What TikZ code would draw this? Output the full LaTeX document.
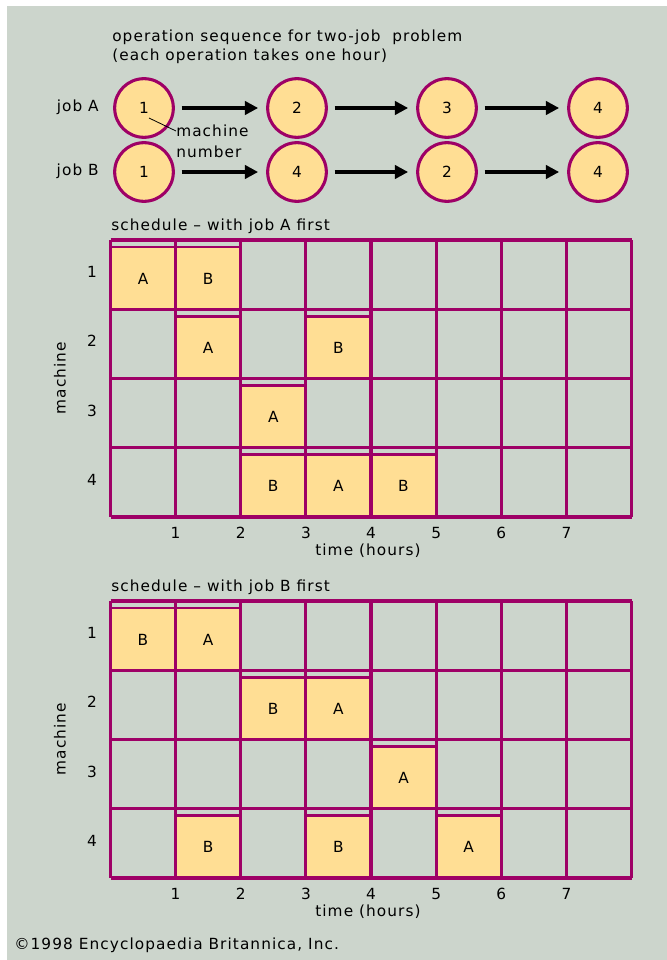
\documentclass[tikz,border=0pt]{standalone}
\usepackage{fontspec}
\setmainfont[LetterSpace=7]{DejaVu Sans}
\usetikzlibrary{arrows.meta}
\definecolor{xBg}{RGB}{204,213,204}
\definecolor{xPlum}{RGB}{158,0,102}
\definecolor{xSand}{RGB}{255,222,148}
\tikzset{
  lbl/.style={font=\fontsize{11.5}{13}\selectfont, inner sep=0pt},
  opnode/.style={circle, draw=xPlum, fill=xSand, line width=2.3pt, minimum size=44pt,
                 inner sep=0pt, font=\fontsize{11.5}{13}\selectfont},
  seqarrow/.style={-{Triangle[length=10pt, width=10pt]}, line width=3.2pt, shorten <=5pt, shorten >=6pt},
  gridline/.style={xPlum, line width=2.4pt},
  busy/.style={fill=xSand},
  barline/.style={xPlum, line width=2.2pt},
}

\begin{document}
\begin{tikzpicture}[x=0.75pt, y=-0.75pt]
    \useasboundingbox (0,0) rectangle (667,960);
    \fill[white] (0,0) rectangle (667,960);
    \fill[xBg] (7,6) rectangle (667,960);

    \node[lbl, anchor=west] (head1) at (112,37) {operation sequence for two-job\ \ problem};
    \node[lbl, anchor=west] (head2) at (112,56) {(each operation takes one hour)};

    \node[lbl, anchor=east] (jobA) at (99,107) {job A};
    \node[lbl, anchor=east] (jobB) at (99,171) {job B};
    \node[opnode] (a1) at (144,108) {1};
    \node[opnode] (a2) at (297,108) {2};
    \node[opnode] (a3) at (447,108) {3};
    \node[opnode] (a4) at (598,108) {4};
    \node[opnode] (b1) at (144,172) {1};
    \node[opnode] (b2) at (297,172) {4};
    \node[opnode] (b3) at (447,172) {2};
    \node[opnode] (b4) at (598,172) {4};
    \draw[seqarrow] (a1) -- (a2);
    \draw[seqarrow] (a2) -- (a3);
    \draw[seqarrow] (a3) -- (a4);
    \draw[seqarrow] (b1) -- (b2);
    \draw[seqarrow] (b2) -- (b3);
    \draw[seqarrow] (b3) -- (b4);

    \coordinate (mtip) at (149,118);
    \node[lbl, anchor=west] (mach) at (176,131) {machine};
    \node[lbl, anchor=west] (numb) at (176,152) {number};
    \draw[semithick] (mtip) -- (mach.west);

    % schedule with job A first
    \begin{scope}
      \node[lbl, anchor=west] (titleA) at (111,226) {schedule -- with job A first};
      \foreach \c/\r/\j in {0/0/A, 1/0/B, 1/1/A, 3/1/B, 2/2/A, 2/3/B, 3/3/A, 4/3/B} {
        \fill[busy] (110.5+\c*65.125, 240+\r*69.25+7) rectangle (110.5+\c*65.125+65.125, 240+\r*69.25+69.25);
        \draw[barline] (110.5+\c*65.125, 240+\r*69.25+7) -- (110.5+\c*65.125+65.125, 240+\r*69.25+7);
        \node[lbl] (sa-\c-\r) at (110.5+\c*65.125+32.5, 240+\r*69.25+38.5) {\j};
      }
      \foreach \r in {0,...,4}
        \draw[gridline] (110.5, 240+\r*69.25) -- (631.5, 240+\r*69.25);
      \foreach \c in {0,...,8}
        \draw[gridline] (110.5+\c*65.125, 240) -- (110.5+\c*65.125, 517);
      \foreach \r in {1,...,4}
        \node[lbl] (rowA\r) at (92, 240+\r*69.25-69.25+32) {\r};
      \foreach \k in {1,...,7}
        \node[lbl] (tickA\k) at (110.5+\k*65.125, 533) {\k};
      \node[lbl] (timeA) at (368,551) {time (hours)};
      \node[lbl, rotate=90] (machA) at (60,378) {machine};
    \end{scope}

    % schedule with job B first
    \begin{scope}[shift={(0,361)}]
      \node[lbl, anchor=west] (titleB) at (111,226) {schedule -- with job B first};
      \foreach \c/\r/\j in {0/0/B, 1/0/A, 2/1/B, 3/1/A, 4/2/A, 1/3/B, 3/3/B, 5/3/A} {
        \fill[busy] (110.5+\c*65.125, 240+\r*69.25+7) rectangle (110.5+\c*65.125+65.125, 240+\r*69.25+69.25);
        \draw[barline] (110.5+\c*65.125, 240+\r*69.25+7) -- (110.5+\c*65.125+65.125, 240+\r*69.25+7);
        \node[lbl] (sb-\c-\r) at (110.5+\c*65.125+32.5, 240+\r*69.25+38.5) {\j};
      }
      \foreach \r in {0,...,4}
        \draw[gridline] (110.5, 240+\r*69.25) -- (631.5, 240+\r*69.25);
      \foreach \c in {0,...,8}
        \draw[gridline] (110.5+\c*65.125, 240) -- (110.5+\c*65.125, 517);
      \foreach \r in {1,...,4}
        \node[lbl] (rowB\r) at (92, 240+\r*69.25-69.25+32) {\r};
      \foreach \k in {1,...,7}
        \node[lbl] (tickB\k) at (110.5+\k*65.125, 533) {\k};
      \node[lbl] (timeB) at (368,551) {time (hours)};
      \node[lbl, rotate=90] (machB) at (60,378) {machine};
    \end{scope}

    \node[lbl, anchor=west] (copy) at (14,945) {©1998 Encyclopaedia Britannica, Inc.};
\end{tikzpicture}
\end{document}
